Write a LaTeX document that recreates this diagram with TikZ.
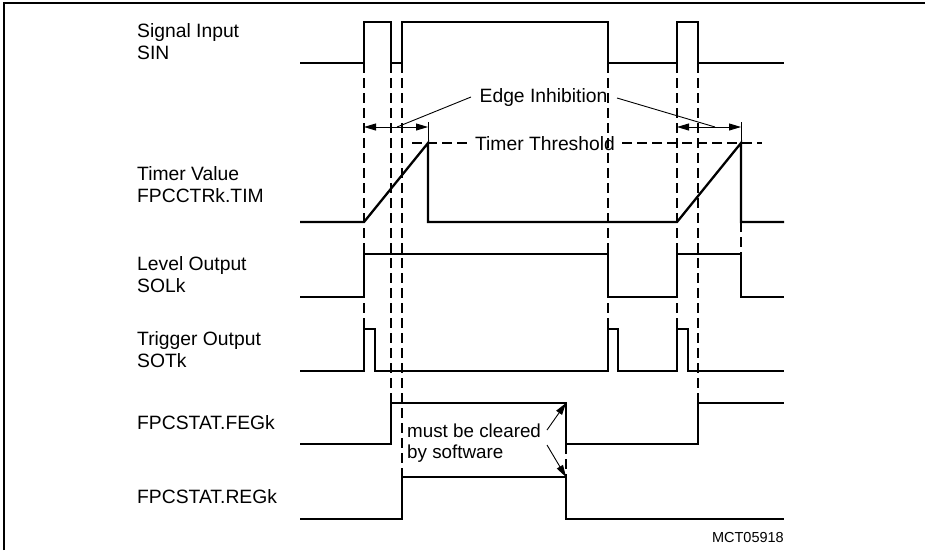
\documentclass[tikz,border=0pt]{standalone}
\usepackage{fontspec}
\setmainfont{Liberation Sans}
\usetikzlibrary{arrows.meta}
\begin{document}
\begin{tikzpicture}[x=1pt,y=-1pt,
  sig/.style={line width=2.3pt},
  guide/.style={line width=1.4pt, dash pattern=on 10pt off 5pt},
  thinline/.style={line width=0.9pt},
  tip/.style={-{Triangle[length=12pt,width=7pt]}},
  dimarrow/.style={thinline,{Triangle[length=12pt,width=7pt]}-{Triangle[length=12pt,width=7pt]}},
  lbl/.style={anchor=base west, inner sep=0pt, font=\fontsize{19.3}{22}\selectfont},
  note/.style={anchor=base west, inner sep=0pt, font=\fontsize{18.8}{21}\selectfont},
  ctext/.style={anchor=base, inner sep=0pt, font=\fontsize{19.3}{22}\selectfont}]
\useasboundingbox (0,0) rectangle (925,550);
% frame (left and top only visible)
\draw[line width=2pt] (4,550) -- (4,3) -- (925,3);

% labels
\node[lbl] (l1a) at (137,37) {Signal Input};
\node[lbl] (l1b) at (137,59) {SIN};
\node[lbl] (l2a) at (137,180) {Timer Value};
\node[lbl] (l2b) at (137,202) {FPCCTRk.TIM};
\node[lbl] (l3a) at (137,270) {Level Output};
\node[lbl] (l3b) at (137,292) {SOLk};
\node[lbl] (l4a) at (137,345) {Trigger Output};
\node[lbl] (l4b) at (137,367) {SOTk};
\node[lbl] (l5) at (137,429) {FPCSTAT.FEGk};
\node[lbl] (l6) at (137,503) {FPCSTAT.REGk};
\node[anchor=base east, inner sep=0pt, font=\fontsize{14.5}{17}\selectfont] (mct) at (784,542) {MCT05918};

% vertical guide lines
\draw[guide] (364,63) -- (364,329);
\draw[guide] (391,63) -- (391,403);
\draw[guide] (402,63) -- (402,477);
\draw[guide] (608,63) -- (608,329);
\draw[guide] (677,63) -- (677,329);
\draw[guide] (698,63) -- (698,403);
\draw[guide] (741,222) -- (741,254);
\draw[guide] (566,444) -- (566,477);

% timer threshold
\node[ctext] (thr) at (545,150.5) {Timer Threshold};
\draw[guide] (412,143) -- (470,143);
\draw[guide] (622,143) -- (762,143);

% edge inhibition
\node[ctext] (ei) at (543.5,102) {Edge Inhibition};
\coordinate (eiL) at (397,127);
\coordinate (eiR) at (715,127);
\draw[thinline] (471,97) -- (eiL);
\draw[thinline] (617,98) -- (eiR);
\draw[thinline] (428,122) -- (428,143);
\draw[thinline] (741,122) -- (741,143);
\draw[dimarrow] (364,127) -- (428,127);
\draw[dimarrow] (677,127) -- (741,127);

% waveforms
\draw[sig] (300,63) -- (364,63) -- (364,22) -- (391,22) -- (391,63) -- (402,63) -- (402,22) -- (608,22) -- (608,63) -- (677,63) -- (677,22) -- (698,22) -- (698,63) -- (784,63);
\draw[sig] (300,222) -- (364,222) -- (428,143) -- (428,222) -- (677,222) -- (741,143) -- (741,222) -- (784,222);
\draw[sig] (300,297) -- (364,297) -- (364,254) -- (608,254) -- (608,297) -- (677,297) -- (677,254) -- (741,254) -- (741,297) -- (784,297);
\draw[sig] (300,371) -- (364,371) -- (364,329) -- (375,329) -- (375,371) -- (608,371) -- (608,329) -- (618,329) -- (618,371) -- (677,371) -- (677,329) -- (688,329) -- (688,371) -- (784,371);
\draw[sig] (300,444) -- (391,444) -- (391,403) -- (566,403) -- (566,444) -- (698,444) -- (698,403) -- (784,403);
\draw[sig] (300,519) -- (402,519) -- (402,477) -- (566,477) -- (566,519) -- (784,519);

% must be cleared note
\node[note] (mb1) at (407,437) {must be cleared};
\node[note] (mb2) at (407,458) {by software};
\coordinate (feg) at (566,403);
\coordinate (reg) at (566,477);
\draw[thinline,tip] (547,430) -- (feg);
\draw[thinline,tip] (547,445) -- (reg);
\end{tikzpicture}
\end{document}
